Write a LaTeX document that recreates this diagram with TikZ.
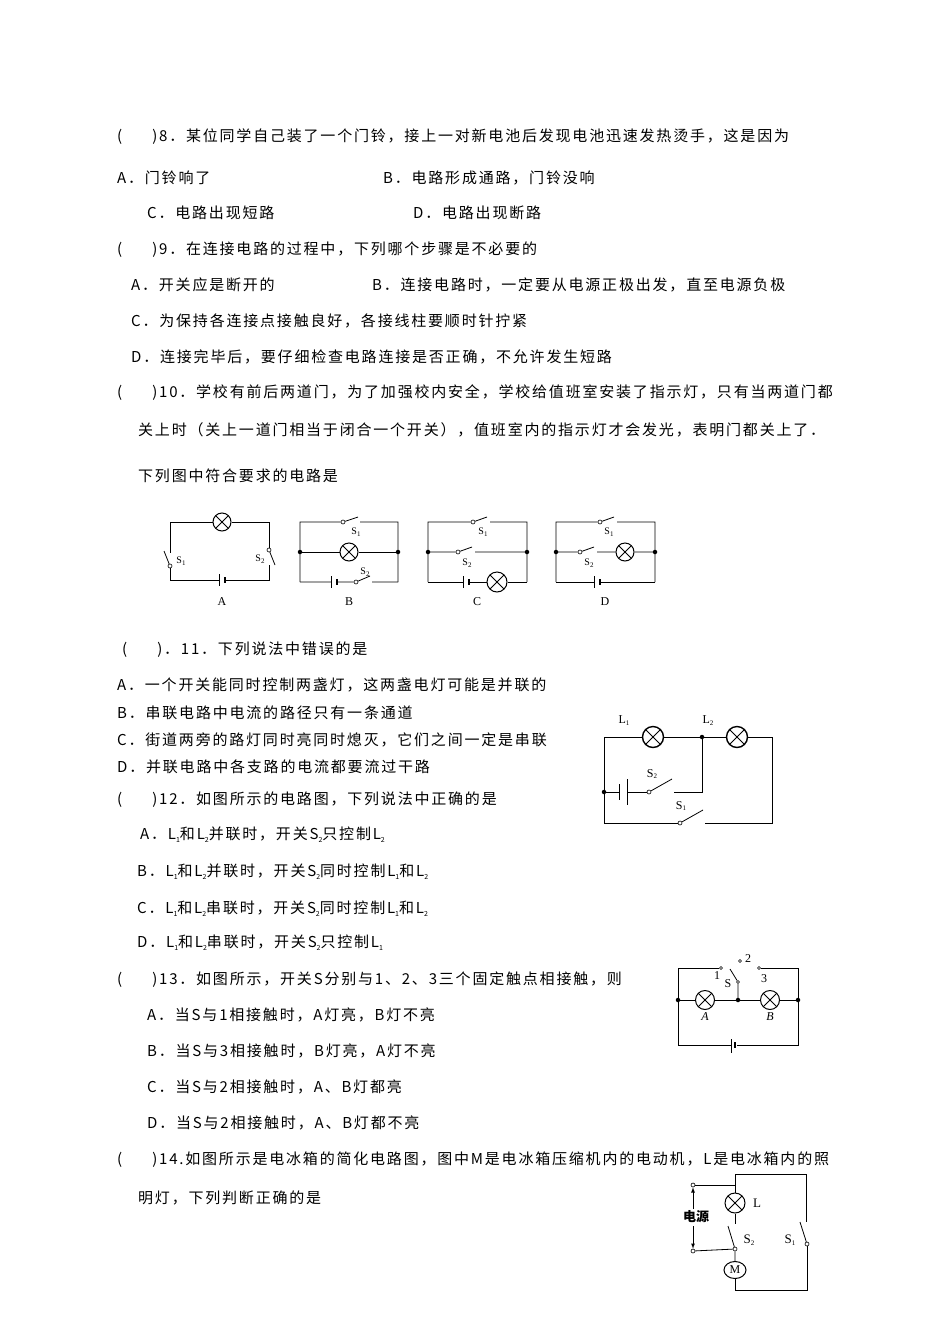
\documentclass[tikz,border=0pt]{standalone}
\usepackage{fontspec}
\usetikzlibrary{shapes.geometric}
\setmainfont{Liberation Serif}
\newfontfamily\cjk[LetterSpace=12]{Noto Sans CJK SC}
\newfontfamily\cjkp{Noto Sans CJK SC}
\newcommand\sbs[1]{\raisebox{-0.35ex}{\scriptsize #1}}
\newcommand\pgap{(\hspace{30pt})}
\begin{document}
\begin{tikzpicture}[x=1pt,y=-1pt,
  txt/.style={anchor=west,inner sep=0,font=\cjk\fontsize{15}{17}\selectfont},
  lbl/.style={inner sep=0,font=\fontsize{10}{12}\selectfont},
  w/.style={line width=0.8pt},
  lamp/.style={draw,circle,line width=1pt,minimum size=#1,inner sep=0,
    path picture={\draw[line width=0.9pt] (path picture bounding box.north west)--(path picture bounding box.south east) (path picture bounding box.north east)--(path picture bounding box.south west);}},
  pv/.style={draw,circle,fill=white,inner sep=0,minimum size=4pt,line width=0.6pt},
  jd/.style={circle,fill,inner sep=0,minimum size=4.5pt}]
\useasboundingbox (0,0) rectangle (950,1344);
% ---- text
\node[txt] at (117,137) {\pgap 8．某位同学自己装了一个门铃，接上一对新电池后发现电池迅速发热烫手，这是因为};
\node[txt] at (117,178) {A．门铃响了};
\node[txt] at (383,178) {B．电路形成通路，门铃没响};
\node[txt] at (147,213) {C．电路出现短路};
\node[txt] at (413,213) {D．电路出现断路};
\node[txt] at (117,250) {\pgap 9．在连接电路的过程中，下列哪个步骤是不必要的};
\node[txt] at (131,285) {A．开关应是断开的};
\node[txt] at (372,285) {B．连接电路时，一定要从电源正极出发，直至电源负极};
\node[txt] at (131,321) {C．为保持各连接点接触良好，各接线柱要顺时针拧紧};
\node[txt] at (131,357) {D．连接完毕后，要仔细检查电路连接是否正确，不允许发生短路};
\node[txt] at (117,393) {\pgap 10．学校有前后两道门，为了加强校内安全，学校给值班室安装了指示灯，只有当两道门都};
\node[txt] at (138,430) {关上时（关上一道门相当于闭合一个开关），值班室内的指示灯才会发光，表明门都关上了．};
\node[txt] at (138,476) {下列图中符合要求的电路是};
\node[txt] at (122,650) {\pgap．11．下列说法中错误的是};
\node[txt] at (117,685) {A．一个开关能同时控制两盏灯，这两盏电灯可能是并联的};
\node[txt] at (117,713) {B．串联电路中电流的路径只有一条通道};
\node[txt] at (117,740) {C．街道两旁的路灯同时亮同时熄灭，它们之间一定是串联};
\node[txt] at (117,767) {D．并联电路中各支路的电流都要流过干路};
\node[txt] at (117,800) {\pgap 12．如图所示的电路图，下列说法中正确的是};
\node[txt] at (140,835) {A．L\sbs1和L\sbs2并联时，开关S\sbs2只控制L\sbs2};
\node[txt] at (137,872) {B．L\sbs1和L\sbs2并联时，开关S\sbs2同时控制L\sbs1和L\sbs2};
\node[txt] at (137,909) {C．L\sbs1和L\sbs2串联时，开关S\sbs2同时控制L\sbs1和L\sbs2};
\node[txt] at (137,943) {D．L\sbs1和L\sbs2串联时，开关S\sbs2只控制L\sbs1};
\node[txt] at (117,980) {\pgap 13．如图所示，开关S分别与1、2、3三个固定触点相接触，则};
\node[txt] at (147,1015) {A．当S与1相接触时，A灯亮，B灯不亮};
\node[txt] at (147,1051) {B．当S与3相接触时，B灯亮，A灯不亮};
\node[txt] at (147,1087) {C．当S与2相接触时，A、B灯都亮};
\node[txt] at (147,1123) {D．当S与2相接触时，A、B灯都不亮};
\node[txt] at (117,1160) {\pgap 14.如图所示是电冰箱的简化电路图，图中M是电冰箱压缩机内的电动机，L是电冰箱内的照};
\node[txt] at (138,1198) {明灯，下列判断正确的是};
% ---- circuit A
\node[lamp=18pt] (la) at (222,522) {};
\draw[w] (la.west)--(170,522)--(170,553);
\draw[w] (la.east)--(269,522)--(269,550);
\node[pv] (pa1) at (170,566) {};
\draw[w] (pa1)--(164,551);
\draw[w] (pa1)--(170,580)--(219,580);
\draw[w] (225,580)--(269,580)--(269,565);
\node[pv] (pa2) at (269,550) {};
\draw[w] (pa2)--(275,565);
\draw[w] (219,574)--(219,586); \draw[line width=1.6pt] (225,577)--(225,583);
\node[lbl] at (181,561) {S\sbs1};
\node[lbl] at (260,559) {S\sbs2};
\node[font=\fontsize{12}{14}\selectfont] at (222,602) {A};
% ---- circuit B
\node[jd] at (300,552) {}; \node[jd] at (398,552) {};
\node[pv] (pb1) at (343,522) {};
\draw[w] (300,582)--(300,522)--(pb1) (pb1)--(358,517) (360,522)--(398,522)--(398,582);
\node[lamp=18pt] (lb) at (349,552) {};
\draw[w] (300,552)--(lb.west) (lb.east)--(398,552);
\node[pv] (pb2) at (356,582) {};
\draw[w] (300,582)--(331,582) (337,582)--(pb2) (pb2)--(370,576) (372,582)--(398,582);
\draw[w] (331,576)--(331,588); \draw[line width=1.6pt] (337,579)--(337,585);
\node[lbl] at (356,532) {S\sbs1};
\node[lbl] at (365,572) {S\sbs2};
\node[font=\fontsize{12}{14}\selectfont] at (349,602) {B};
% ---- circuit C
\node[jd] at (428,552) {}; \node[jd] at (527,552) {};
\node[pv] (pc1) at (473,522) {};
\draw[w] (428,582)--(428,522)--(pc1) (pc1)--(487,517) (490,522)--(527,522)--(527,582);
\node[pv] (pc2) at (458,552) {};
\draw[w] (428,552)--(pc2) (pc2)--(472,547) (475,552)--(527,552);
\node[lamp=20pt] (lc) at (497,582) {};
\draw[w] (428,582)--(463,582) (469,582)--(lc.west) (lc.east)--(527,582);
\draw[w] (463,576)--(463,588); \draw[line width=1.6pt] (469,579)--(469,585);
\node[lbl] at (483,532) {S\sbs1};
\node[lbl] at (467,563) {S\sbs2};
\node[font=\fontsize{12}{14}\selectfont] at (477,602) {C};
% ---- circuit D
\node[jd] at (556,552) {}; \node[jd] at (655,552) {};
\node[pv] (pd1) at (600,522) {};
\draw[w] (556,582)--(556,522)--(pd1) (pd1)--(614,517) (617,522)--(655,522)--(655,582);
\node[pv] (pd2) at (580,552) {};
\node[lamp=18pt] (ld) at (625,552) {};
\draw[w] (556,552)--(pd2) (pd2)--(594,547) (597,552)--(ld.west) (ld.east)--(655,552);
\draw[w] (556,582)--(594,582) (600,582)--(655,582);
\draw[w] (594,576)--(594,588); \draw[line width=1.6pt] (600,579)--(600,585);
\node[lbl] at (609,532) {S\sbs1};
\node[lbl] at (589,563) {S\sbs2};
\node[font=\fontsize{12}{14}\selectfont] at (605,602) {D};
% ---- Q12 circuit
\node[lamp=21pt,line width=1.4pt] (l1) at (653,737) {};
\node[lamp=21pt,line width=1.4pt] (l2) at (737,737) {};
\node[jd] (j12) at (702,737) {};
\node[jd] (j11) at (604,792) {};
\draw[w] (l1.west)--(604,737)--(604,823)--(680,823);
\draw[w] (l1.east)--(l2.west) (l2.east)--(772,737)--(772,823)--(705,823);
\node[pv] (s1p) at (680,823) {};
\draw[w] (s1p)--(703,810);
\draw[w] (604,792)--(619,792) (627,792)--(649,792);
\draw[w] (619,784)--(619,800); \draw[w] (627,779)--(627,805);
\node[pv] (s2p) at (649,792) {};
\draw[w] (s2p)--(672,779);
\draw[w] (674,792)--(702,792)--(702,737);
\node[font=\fontsize{12}{14}\selectfont] at (624,721) {L\sbs1};
\node[font=\fontsize{12}{14}\selectfont] at (708,721) {L\sbs2};
\node[font=\fontsize{12}{14}\selectfont] at (652,774) {S\sbs2};
\node[font=\fontsize{12}{14}\selectfont] at (681,806) {S\sbs1};
% ---- Q13 circuit
\node[lamp=19pt] (ca) at (705,1000) {};
\node[lamp=19pt] (cb) at (770,1000) {};
\node[jd] at (678,1000) {}; \node[jd] at (798,1000) {}; \node[jd] at (738,1000) {};
\node[pv,minimum size=3pt] (c1) at (721,968) {};
\node[pv,minimum size=3pt] (c2) at (740,961) {};
\node[pv,minimum size=3pt] (c3) at (759,968) {};
\node[pv,minimum size=3pt] (sp) at (738,982) {};
\draw[w] (c1)--(678,968)--(678,1045)--(731,1045);
\draw[w] (c3)--(798,968)--(798,1045)--(737,1045);
\draw[w] (731,1039)--(731,1053); \draw[line width=1.4pt] (735,1042)--(735,1048);
\draw[w] (678,1000)--(ca.west) (ca.east)--(cb.west) (cb.east)--(798,1000);
\draw[w] (738,1000)--(sp) (sp)--(730,969);
\node[lbl,font=\fontsize{12}{12}\selectfont] at (717,976) {1};
\node[lbl,font=\fontsize{12}{12}\selectfont] at (748,959) {2};
\node[lbl,font=\fontsize{12}{12}\selectfont] at (764,979) {3};
\node[lbl,font=\fontsize{12}{12}\selectfont] at (728,984) {S};
\node[lbl,font=\itshape\fontsize{12}{12}\selectfont] at (705,1017) {A};
\node[lbl,font=\itshape\fontsize{12}{12}\selectfont] at (770,1017) {B};
% ---- Q14 circuit
\node[pv] (t1) at (693,1185) {};
\node[pv] (t2) at (693,1251) {};
\node[lamp=20pt] (ll) at (735,1203) {};
\node[draw,ellipse,line width=1pt,minimum width=22pt,minimum height=17pt,inner sep=0,font=\fontsize{12}{12}\selectfont] (mm) at (735,1270) {M};
\draw[w] (t1)--(735,1185);
\draw[w] (735,1174)--(806,1174)--(806,1222);
\draw[w] (735,1174)--(ll.north);
\draw[w] (ll.south)--(735,1224);
\node[pv] (s2q) at (735,1249) {};
\draw[w] (s2q)--(728,1226);
\draw[w] (t2)--(s2q) (s2q)--(mm.north);
\node[pv] (s1q) at (807,1244) {};
\draw[w] (s1q)--(800,1222);
\draw[w] (s1q)--(807,1290)--(735,1290)--(mm.south);
\node[font=\cjkp\bfseries\fontsize{13}{14}\selectfont,inner sep=1pt,fill=white] (dy) at (696,1217) {电源};
\draw[w,-latex] (693,1209)--(t1);
\draw[w,-latex] (693,1226)--(t2);
\node[font=\fontsize{13}{14}\selectfont] at (757,1203) {L};
\node[font=\fontsize{13}{14}\selectfont] at (749,1240) {S\sbs2};
\node[font=\fontsize{13}{14}\selectfont] at (790,1240) {S\sbs1};
\end{tikzpicture}
\end{document}
